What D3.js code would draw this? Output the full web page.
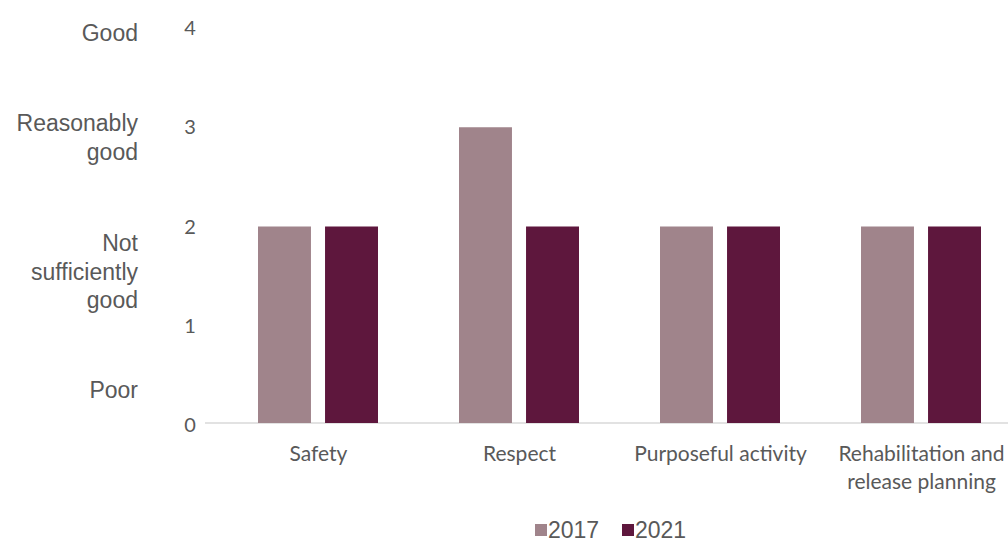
<!DOCTYPE html>
<meta charset="utf-8">
<head>
	<title>Ratings 2017 vs 2021</title>
</head>
<style>
	body { margin: 0; background: #fff; }
	text { fill: #595959; }
</style>
<body>
	<svg width="1008" height="541"></svg>
	<script src="https://cdn.jsdelivr.net/npm/d3@7"></script>
	<script>
		var categories = [["Safety"], ["Respect"], ["Purposeful activity"], ["Rehabilitation and", "release planning"]];
		var series = ["2017", "2021"];
		var values2017 = [2, 3, 2, 2];
		var values2021 = [2, 2, 2, 2];
		var yTicks = [0, 1, 2, 3, 4];
		var ratingLabels = [
			{v: 4, lines: ["Good"]},
			{v: 3, lines: ["Reasonably", "good"]},
			{v: 2, lines: ["Not", "sufficiently", "good"]},
			{v: 0, lines: ["Poor"]}
		];
		var colors = ["#a0848b", "#5e173d"];

		var svg = d3.select("svg");

		var y = d3.scaleLinear().domain([0, 4]).range([425, 28]);
		var x = d3.scaleBand().domain(categories.map(function(d) { return d.join(" "); }))
			.range([218, 1022]).paddingInner(0).paddingOuter(0);
		var xs = d3.scaleBand().domain(series).range([40, 160]).paddingInner(0.21);

		// axis line
		svg.append("line")
			.attr("x1", 205).attr("x2", 1008)
			.attr("y1", y(0) - 2).attr("y2", y(0) - 2)
			.attr("stroke", "#d9d9d9").attr("stroke-width", 1.5);

		// numeric ticks
		svg.selectAll(".tick").data(yTicks).enter().append("text")
			.attr("x", 190).attr("y", function(d) { return y(d); })
			.attr("dy", "0.35em").attr("text-anchor", "middle")
			.style("font-family", "Lato, 'Open Sans', sans-serif").style("font-size", "20px")
			.text(function(d) { return d; });

		// rating labels
		ratingLabels.forEach(function(r) {
			var t = svg.append("text")
				.attr("text-anchor", "end")
				.style("font-family", "'Liberation Sans', Arial, sans-serif").style("font-size", "23px");
			var top = r.v == 0 ? 390 : r.v == 2 ? 243 : r.v == 3 ? 123 : 33;
			r.lines.forEach(function(l, i) {
				t.append("tspan").attr("x", 138).attr("y", top + i * 28.5).attr("dy", "0.35em").text(l);
			});
		});

		// bars
		var groups = svg.selectAll(".grp").data(categories).enter().append("g")
			.attr("transform", function(d) { return "translate(" + x(d.join(" ")) + ",0)"; });
		groups.selectAll("rect").data(function(d, i) {
			return [{s: "2017", v: values2017[i]}, {s: "2021", v: values2021[i]}];
		}).enter().append("rect")
			.attr("x", function(d) { return xs(d.s); })
			.attr("width", xs.bandwidth())
			.attr("y", function(d) { return y(d.v); })
			.attr("height", function(d) { return y(0) - 2 - y(d.v); })
			.attr("fill", function(d, i) { return colors[i]; });

		// category labels
		groups.each(function(d) {
			var t = d3.select(this).append("text")
				.attr("text-anchor", "middle")
				.style("font-family", "Lato, 'Open Sans', sans-serif").style("font-size", "21px");
			d.forEach(function(l, i) {
				t.append("tspan").attr("x", x.bandwidth() / 2).attr("y", 454 + i * 28).attr("dy", "0.35em").text(l);
			});
		});

		// legend
		var legX = [535, 622];
		series.forEach(function(s, i) {
			svg.append("rect").attr("x", legX[i]).attr("y", 524).attr("width", 12).attr("height", 12).attr("fill", colors[i]);
			svg.append("text").attr("x", legX[i] + 13).attr("y", 530).attr("dy", "0.35em")
				.style("font-family", "'Liberation Sans', Arial, sans-serif").style("font-size", "23px")
				.text(s);
		});
	</script>
</body>
</html>
